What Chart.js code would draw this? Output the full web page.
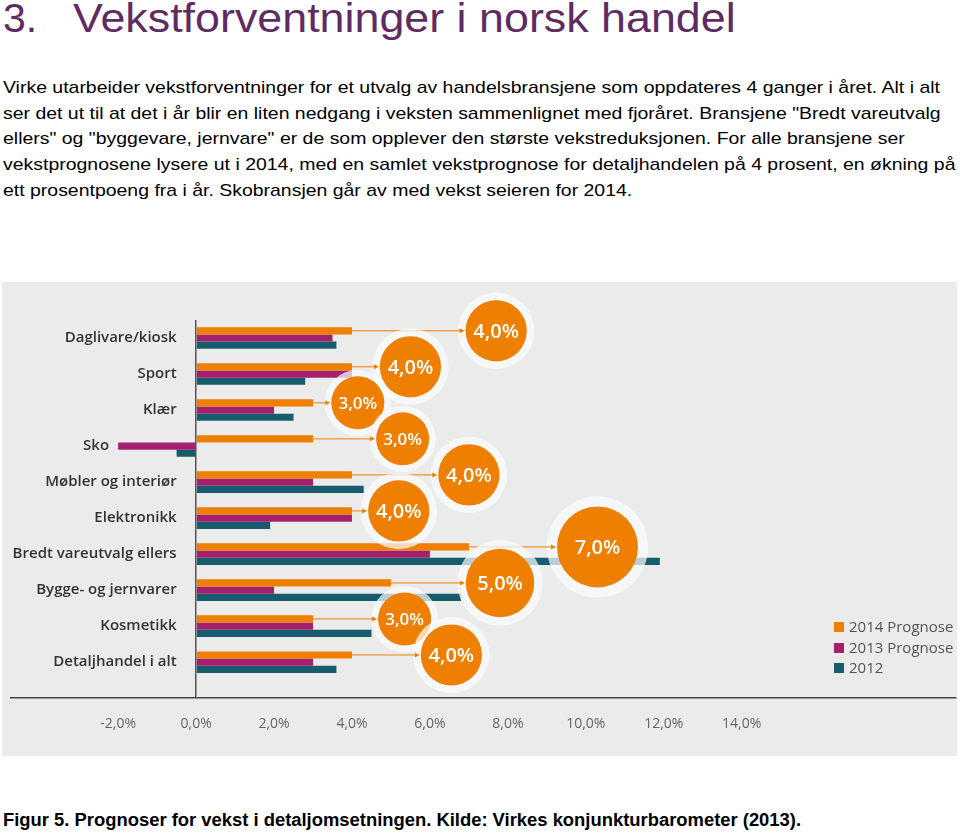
<!DOCTYPE html>
<html lang="no">
<head>
<meta charset="utf-8">
<title>Vekstforventninger i norsk handel</title>
<script src="https://cdn.jsdelivr.net/npm/chart.js@4.4.1/dist/chart.umd.min.js"></script>
<style>
  html, body { margin: 0; padding: 0; background: #fff; }
  body { width: 960px; height: 835px; position: relative; overflow: hidden; font-family: "Liberation Sans", Arial, sans-serif; }
  h1 { position: absolute; left: 3px; top: -5px; margin: 0; font-weight: normal; font-size: 41px; color: #5e2b63; white-space: nowrap; }
  h1 .num { display: inline-block; width: 70px; }
  h1 .txt { display: inline-block; transform: scaleX(1.093); transform-origin: left center; }
  .intro { position: absolute; left: 3px; top: 75px; margin: 0; font-size: 17px; line-height: 25.7px; color: #000; white-space: nowrap; transform: scaleX(1.144); transform-origin: left top; }
  .box { position: absolute; left: 2px; top: 282px; width: 955px; height: 474px; background: #ebebeb; }
  .legend { position: absolute; left: 832px; top: 334px; font-family: "Open Sans", sans-serif; font-size: 15px; color: #555; line-height: 20.5px; }
  .legend span { display: inline-block; width: 10px; height: 10px; margin-right: 5px; }
  .caption { position: absolute; left: 3px; top: 810px; margin: 0; font-weight: bold; font-size: 18px; white-space: nowrap; transform: scaleX(1.022); transform-origin: left top; }
</style>
</head>
<body>
<h1><span class="num">3.</span><span class="txt">Vekstforventninger i norsk handel</span></h1>
<p class="intro">Virke utarbeider vekstforventninger for et utvalg av handelsbransjene som oppdateres 4 ganger i året. Alt i alt<br>ser det ut til at det i år blir en liten nedgang i veksten sammenlignet med fjoråret. Bransjene "Bredt vareutvalg<br>ellers" og "byggevare, jernvare" er de som opplever den største vekstreduksjonen. For alle bransjene ser<br>vekstprognosene lysere ut i 2014, med en samlet vekstprognose for detaljhandelen på 4 prosent, en økning på<br>ett prosentpoeng fra i år. Skobransjen går av med vekst seieren for 2014.</p>
<div class="box">
  <canvas id="chart"></canvas>
  <div class="legend" id="legend"></div>
</div>
<p class="caption">Figur 5. Prognoser for vekst i detaljomsetningen. Kilde: Virkes konjunkturbarometer (2013).</p>
<script>
// data lest av figuren (prosent vekst)
const categories = ['Daglivare/kiosk', 'Sport', 'Klær', 'Sko', 'Møbler og interiør', 'Elektronikk',
  'Bredt vareutvalg ellers', 'Bygge- og jernvarer', 'Kosmetikk', 'Detaljhandel i alt'];
const prognose2014 = [4.0, 4.0, 3.0, 3.0, 4.0, 4.0, 7.0, 5.0, 3.0, 4.0];
const prognose2013 = [3.5, 4.0, 2.0, -2.0, 3.0, 4.0, 6.0, 2.0, 3.0, 3.0];
const vekst2012 = [3.6, 2.8, 2.5, -0.5, 4.3, 1.9, 11.9, 6.8, 4.5, 3.6];
const tickValues = [-2, 0, 2, 4, 6, 8, 10, 12, 14];
// hvor boblene med 2014-prognosen står langs x-aksen
const bubbleX = [7.7, 5.5, 4.15, 5.3, 7.0, 5.2, 10.3, 7.8, 5.35, 6.55];

const ORANGE = '#ef7f00';
const MAGENTA = '#a3206e';
const TEAL = '#165c6d';

function fmt(v) {
  return v.toFixed(1).replace('.', ',') + '%';
}

// bobler + piler fra 2014-søylen
const bubblePlugin = {
  id: 'bubbles',
  afterDatasetsDraw(chart) {
    const ctx = chart.ctx;
    const x = chart.scales.x;
    const bars = chart.getDatasetMeta(0).data;
    bars.forEach((bar, i) => {
      const value = prognose2014[i];
      const r = 15.3 * Math.sqrt(value);
      const cx = x.getPixelForValue(bubbleX[i]);
      const cy = bar.y;
      ctx.save();
      ctx.fillStyle = 'rgba(250,251,252,0.72)';
      ctx.beginPath();
      ctx.arc(cx, cy, r * 1.25, 0, Math.PI * 2);
      ctx.fill();

      const tip = cx - r - 1;
      ctx.strokeStyle = ORANGE;
      ctx.lineWidth = 1;
      ctx.beginPath();
      ctx.moveTo(bar.x, cy);
      ctx.lineTo(tip - 3, cy);
      ctx.stroke();
      ctx.fillStyle = ORANGE;
      ctx.beginPath();
      ctx.moveTo(tip, cy);
      ctx.lineTo(tip - 5, cy - 2.5);
      ctx.lineTo(tip - 5, cy + 2.5);
      ctx.closePath();
      ctx.fill();

      ctx.beginPath();
      ctx.arc(cx, cy, r, 0, Math.PI * 2);
      ctx.fill();
      ctx.fillStyle = '#fff';
      ctx.font = `600 ${Math.round(Math.min(20, r * 0.65))}px "Open Sans"`;
      ctx.textAlign = 'center';
      ctx.textBaseline = 'middle';
      ctx.fillText(fmt(value), cx, cy + 1);
      ctx.restore();
    });
  }
};

const chart = new Chart(document.getElementById('chart'), {
  type: 'bar',
  data: {
    labels: categories,
    datasets: [
      { label: '2014 Prognose', data: prognose2014, backgroundColor: ORANGE },
      { label: '2013 Prognose', data: prognose2013, backgroundColor: MAGENTA },
      { label: '2012', data: vekst2012, backgroundColor: TEAL }
    ]
  },
  options: {
    indexAxis: 'y',
    responsive: true,
    maintainAspectRatio: false,
    animation: false,
    datasets: {
      bar: { categoryPercentage: 0.6, barPercentage: 1.0, borderWidth: 0 }
    },
    layout: { padding: { left: 9, right: 1, top: 38, bottom: 7 } },
    plugins: {
      legend: { display: false },
      tooltip: { enabled: false }
    },
    scales: {
      x: {
        type: 'linear',
        min: -4.75,
        max: 19.5,
        afterBuildTicks: (scale) => {
          scale.ticks = tickValues.map(v => ({ value: v }));
        },
        grid: {
          drawTicks: false,
          lineWidth: 1.5,
          color: (c) => (c.tick && c.tick.value === 0 ? '#555' : 'rgba(0,0,0,0)')
        },
        border: { display: true, color: '#444', width: 1.5 },
        ticks: {
          padding: 17,
          color: '#666',
          font: { family: 'Open Sans', size: 14 },
          callback: (v) => fmt(v)
        }
      },
      y: {
        type: 'category',
        position: { x: -0.5 },
        afterBuildTicks: (scale) => {
          // litt ekstra luft under siste kategori
          scale._valueRange += 0.5;
        },
        grid: { display: false },
        border: { display: false },
        ticks: {
          color: '#333',
          font: { family: 'Open Sans', size: 15, weight: '600' },
          callback: function (value, index) {
            const label = this.getLabelForValue(value);
            const negative = prognose2013[index] < 0 || vekst2012[index] < 0;
            return negative ? label + '\u2003\u2003\u2003\u2003\u2002' : label;
          }
        }
      }
    }
  },
  plugins: [bubblePlugin]
});

// legende
const legendEl = document.getElementById('legend');
chart.data.datasets.forEach(ds => {
  const row = document.createElement('div');
  row.innerHTML = `<span style="background:${ds.backgroundColor}"></span>${ds.label}`;
  legendEl.appendChild(row);
});
</script>
</body>
</html>
